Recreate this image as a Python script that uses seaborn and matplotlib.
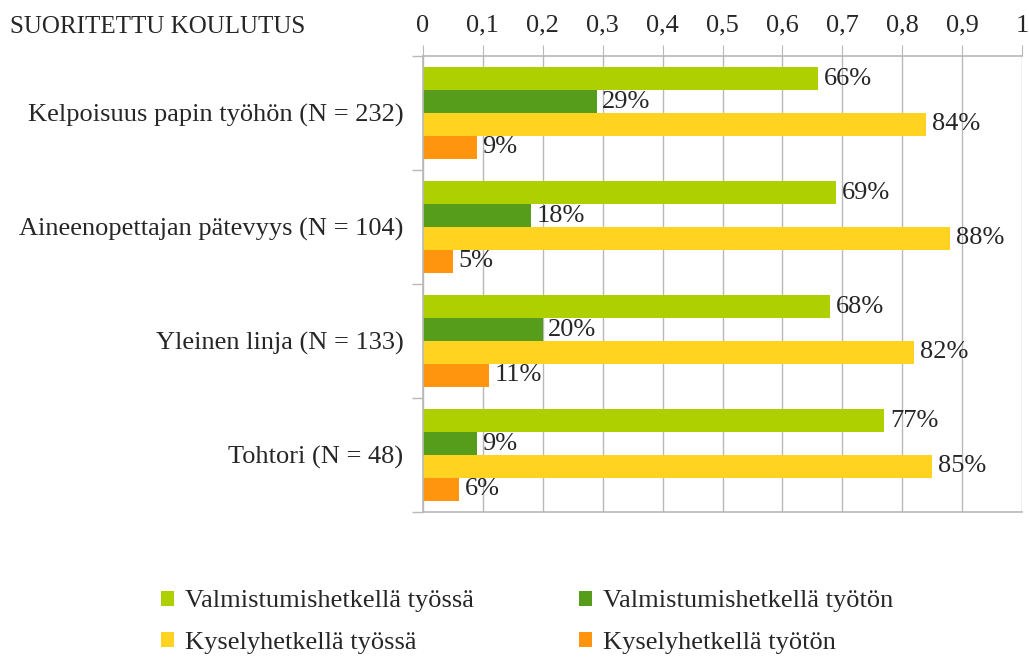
import pandas as pd
import matplotlib.pyplot as plt
import matplotlib.ticker as mticker
from matplotlib.patches import Patch
import seaborn as sns

categories = ['Kelpoisuus papin työhön (N = 232)',
              'Aineenopettajan pätevyys (N = 104)',
              'Yleinen linja (N = 133)',
              'Tohtori (N = 48)']
series = ['Valmistumishetkellä työssä', 'Valmistumishetkellä työtön',
          'Kyselyhetkellä työssä', 'Kyselyhetkellä työtön']
valm_tyossa = [0.66, 0.69, 0.68, 0.77]
valm_tyoton = [0.29, 0.18, 0.20, 0.09]
kysely_tyossa = [0.84, 0.88, 0.82, 0.85]
kysely_tyoton = [0.09, 0.05, 0.11, 0.06]
colors = ['#aecf00', '#579d1c', '#ffd320', '#ff950e']

rows = []
for s, vals in zip(series, [valm_tyossa, valm_tyoton, kysely_tyossa, kysely_tyoton]):
    for c, v in zip(categories, vals):
        rows.append({'koulutus': c, 'sarja': s, 'osuus': v})
df = pd.DataFrame(rows)

sns.set_style('white')
plt.rcParams['font.family'] = ['Liberation Serif', 'DejaVu Serif']
fs = 19
grid_c = '#b8b8b8'

fig = plt.figure(figsize=(10.29, 6.57), dpi=100)
ax = fig.add_axes([423 / 1029, 1 - 512 / 657, 599 / 1029, 456 / 657])

sns.barplot(data=df, y='koulutus', x='osuus', hue='sarja', order=categories,
            hue_order=series, palette=colors, orient='h', width=0.8,
            saturation=1, legend=False, linewidth=0, ax=ax)

for cont, s in zip(ax.containers, series):
    vals = df[df['sarja'] == s].set_index('koulutus').loc[categories, 'osuus']
    ax.bar_label(cont, labels=['{:.0f}%'.format(v * 100) for v in vals],
                 padding=4, fontsize=fs)

ax.set_xlim(0, 1)
ax.set_ylim(3.5, -0.5)
ax.xaxis.set_major_locator(mticker.MultipleLocator(0.1))
ax.xaxis.set_major_formatter(mticker.FuncFormatter(
    lambda x, p: '{:g}'.format(round(x, 1)).replace('.', ',')))
ax.xaxis.tick_top()
ax.tick_params(axis='x', which='major', length=8, color=grid_c, pad=6, labelsize=fs)
ax.grid(axis='x', color=grid_c, linewidth=1)
ax.set_axisbelow(True)

ax.set_yticks(range(len(categories)))
ax.set_yticks([i - 0.5 for i in range(len(categories) + 1)], minor=True)
ax.tick_params(axis='y', which='major', length=0, pad=14, labelsize=fs)
ax.tick_params(axis='y', which='minor', length=8, color=grid_c, width=1, left=True)
ax.set_xlabel('')
ax.set_ylabel('')

for side in ['left', 'top', 'bottom']:
    ax.spines[side].set_color(grid_c)
    ax.spines[side].set_linewidth(1.2)
ax.spines['right'].set_visible(False)

fig.text(10 / 1029, 1 - 27 / 657, 'SUORITETTU KOULUTUS', fontsize=fs - 1,
         va='center', ha='left')

handles = [Patch(facecolor=c, edgecolor='none') for c in colors]
order = [0, 2, 1, 3]
fig.legend([handles[i] for i in order], [series[i] for i in order], ncol=2,
           loc='center', bbox_to_anchor=(527 / 1029, 1 - 622 / 657),
           frameon=False, fontsize=fs, handlelength=0.5, handleheight=0.5,
           handletextpad=0.4, columnspacing=4.0, labelspacing=0.72)

fig.savefig('out.png', dpi=100)
